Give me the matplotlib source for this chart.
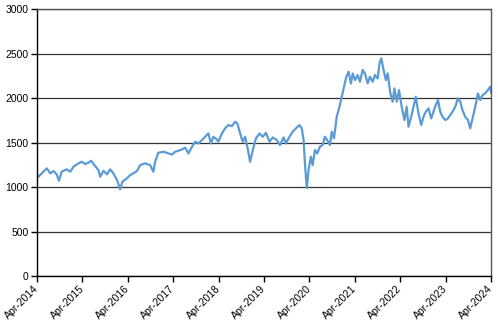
import matplotlib

matplotlib.use("Agg")
import matplotlib.pyplot as plt
import pandas as pd

plt.rcParams["font.family"] = ["Liberation Sans", "DejaVu Sans"]

# 读图得到的数值：时间（小数年）与指数值
years = [
    2014.25, 2014.28, 2014.35, 2014.46, 2014.54, 2014.61, 2014.68, 2014.73, 2014.79, 2014.90,
    2014.98, 2015.05, 2015.16, 2015.23, 2015.31, 2015.38, 2015.44, 2015.51, 2015.60, 2015.64,
    2015.71, 2015.79, 2015.86, 2015.93, 2016.01, 2016.08, 2016.13, 2016.23, 2016.30, 2016.37,
    2016.45, 2016.52, 2016.63, 2016.74, 2016.81, 2016.85, 2016.92, 2017.03, 2017.14, 2017.22,
    2017.29, 2017.36, 2017.44, 2017.51, 2017.58, 2017.66, 2017.73, 2017.80, 2017.88, 2017.95,
    2018.02, 2018.08, 2018.13, 2018.21, 2018.24, 2018.32, 2018.39, 2018.46, 2018.54, 2018.61,
    2018.66, 2018.72, 2018.78, 2018.83, 2018.88, 2018.94, 2019.00, 2019.07, 2019.15, 2019.22,
    2019.29, 2019.37, 2019.44, 2019.53, 2019.60, 2019.68, 2019.73, 2019.81, 2019.88, 2019.95,
    2020.03, 2020.08, 2020.12, 2020.15, 2020.19, 2020.23, 2020.28, 2020.32, 2020.37, 2020.42,
    2020.48, 2020.54, 2020.59, 2020.64, 2020.70, 2020.74, 2020.79, 2020.85, 2020.91, 2020.96,
    2021.01, 2021.06, 2021.11, 2021.16, 2021.20, 2021.25, 2021.31, 2021.36, 2021.42, 2021.47,
    2021.53, 2021.58, 2021.64, 2021.69, 2021.75, 2021.79, 2021.83, 2021.88, 2021.93, 2021.97,
    2022.03, 2022.08, 2022.12, 2022.17, 2022.22, 2022.28, 2022.34, 2022.39, 2022.43, 2022.49,
    2022.54, 2022.59, 2022.65, 2022.71, 2022.76, 2022.81, 2022.87, 2022.93, 2022.98, 2023.03,
    2023.08, 2023.13, 2023.18, 2023.24, 2023.30, 2023.35, 2023.40, 2023.46, 2023.52, 2023.57,
    2023.62, 2023.68, 2023.74, 2023.79, 2023.84, 2023.90, 2023.96, 2024.01, 2024.06, 2024.12,
    2024.18, 2024.23, 2024.25,
]
values = [
    1140, 1116, 1154, 1210, 1154, 1180, 1143, 1071, 1173, 1199,
    1173, 1228, 1266, 1285, 1259, 1274, 1296, 1247, 1191, 1116,
    1183, 1143, 1199, 1154, 1079, 974, 1060, 1098, 1135, 1154,
    1180, 1247, 1266, 1247, 1172, 1284, 1385, 1397, 1378, 1366,
    1397, 1408, 1423, 1442, 1378, 1453, 1509, 1490, 1528, 1565,
    1603, 1490, 1565, 1535, 1509, 1603, 1659, 1697, 1685, 1734,
    1715, 1603, 1509, 1565, 1453, 1284, 1416, 1547, 1603, 1565,
    1610, 1509, 1558, 1528, 1472, 1558, 1491, 1566, 1622, 1659,
    1697, 1659, 1528, 1266, 990, 1191, 1341, 1247, 1416, 1378,
    1453, 1472, 1566, 1528, 1472, 1622, 1547, 1790, 1902, 2015,
    2127, 2240, 2296, 2164, 2277, 2202, 2259, 2183, 2315, 2277,
    2164, 2240, 2183, 2259, 2221, 2390, 2446, 2315, 2202, 2277,
    2053, 1959, 2108, 1959, 2090, 1902, 1753, 1902, 1678, 1790,
    1902, 2015, 1827, 1697, 1790, 1846, 1884, 1771, 1846, 1921,
    1977, 1846, 1790, 1753, 1771, 1809, 1846, 1902, 1996, 1959,
    1865, 1790, 1753, 1659, 1771, 1902, 2053, 1977, 2033, 2053,
    2090, 2127, 2060,
]
tick_labels = [f"Apr-{y}" for y in range(2014, 2025)]
y_ticks = [0, 500, 1000, 1500, 2000, 2500, 3000]


def to_date(y):
    yr = int(y)
    start = pd.Timestamp(year=yr, month=1, day=1)
    return start + pd.Timedelta(days=(y - yr) * 365.25)


dates = [to_date(y) for y in years]
tick_dates = [pd.Timestamp(year=y, month=4, day=1) for y in range(2014, 2025)]

fig = plt.figure(figsize=(4.98, 3.24), dpi=100)
ax = fig.add_axes([0.0743, 0.148, 0.9117, 0.824])

ax.plot(dates, values, color="#5B9BD5", lw=1.6)

ax.set_ylim(0, 3000)
ax.set_yticks(y_ticks)
ax.set_xlim(tick_dates[0], tick_dates[-1])
ax.set_xticks(tick_dates)
ax.set_xticklabels(tick_labels, rotation=45, ha="right", va="center",
                   rotation_mode="anchor")
ax.yaxis.grid(True, color="#333333", lw=0.9)
ax.set_axisbelow(True)

for side in ["top", "right"]:
    ax.spines[side].set_color("#555555")
    ax.spines[side].set_linewidth(1.0)
for side in ["left", "bottom"]:
    ax.spines[side].set_color("black")
    ax.spines[side].set_linewidth(1.0)

ax.tick_params(axis="both", direction="out", length=4, width=1.0, labelsize=7.5,
               colors="black", pad=2)
ax.tick_params(axis="x", pad=4)

fig.savefig("out.png", dpi=100)
